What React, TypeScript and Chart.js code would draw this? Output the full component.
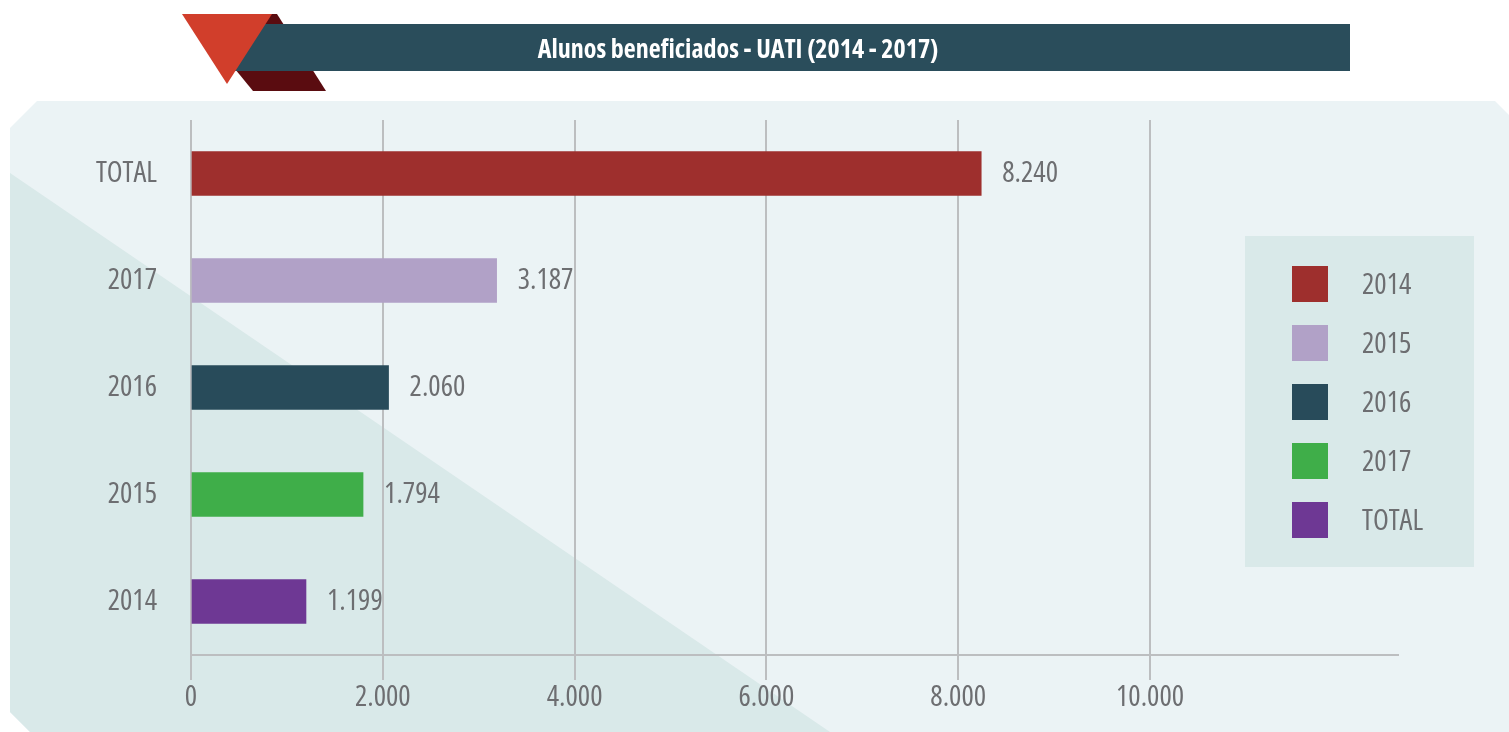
import React, { useEffect, useRef } from 'react';
import { Chart, registerables } from 'chart.js';

Chart.register(...registerables);

const title = 'Alunos beneficiados - UATI (2014 - 2017)';
const categories = ['TOTAL', '2017', '2016', '2015', '2014'];
const values = [8240, 3187, 2060, 1794, 1199];
const barColors = ['#9e2f2d', '#b1a1c7', '#284b5a', '#3fae49', '#6e3894'];
const legendLabels = ['2014', '2015', '2016', '2017', 'TOTAL'];
const legendColors = ['#9e2f2d', '#b1a1c7', '#284b5a', '#3fae49', '#6e3894'];
const xTickValues = [0, 2000, 4000, 6000, 8000, 10000];

const FAMILY = "'Open Sans', 'DejaVu Sans Condensed', sans-serif";
const FS = 29;
const GRAY = '#6d6e71';
const GRID = '#bcbec0';

function fmt(n: number): string {
  return String(Math.round(n)).replace(/\B(?=(\d{3})+(?!\d))/g, '.');
}

const backgroundPlugin = {
  id: 'bgDecor',
  beforeDraw(chart: any) {
    const ctx = chart.ctx as CanvasRenderingContext2D;
    const W = chart.width;
    const H = chart.height;
    ctx.save();
    ctx.fillStyle = '#ffffff';
    ctx.fillRect(0, 0, W, H);
    // panel
    ctx.fillStyle = '#ebf3f5';
    ctx.beginPath();
    ctx.moveTo(10, 128);
    ctx.lineTo(37, 101);
    ctx.lineTo(1495, 101);
    ctx.lineTo(W, 115);
    ctx.lineTo(W, H);
    ctx.lineTo(30, H);
    ctx.lineTo(10, 712);
    ctx.closePath();
    ctx.fill();
    // diagonal shade
    ctx.fillStyle = '#d9e9e9';
    ctx.beginPath();
    ctx.moveTo(10, 173);
    ctx.lineTo(830, H);
    ctx.lineTo(30, H);
    ctx.lineTo(10, 712);
    ctx.closePath();
    ctx.fill();
    // banner: dark red parallelogram
    ctx.fillStyle = '#5a0c10';
    ctx.beginPath();
    ctx.moveTo(190, 14);
    ctx.lineTo(277, 14);
    ctx.lineTo(326, 91);
    ctx.lineTo(253, 91);
    ctx.closePath();
    ctx.fill();
    // teal bar
    ctx.fillStyle = '#2a4d5b';
    ctx.fillRect(235, 24, 1350 - 235, 47);
    // red triangle
    ctx.fillStyle = '#d13e2b';
    ctx.beginPath();
    ctx.moveTo(182, 14);
    ctx.lineTo(272, 14);
    ctx.lineTo(227, 84);
    ctx.closePath();
    ctx.fill();
    // title
    ctx.fillStyle = '#ffffff';
    ctx.font = `bold condensed 26px ${FAMILY}`;
    ctx.textAlign = 'center';
    ctx.textBaseline = 'middle';
    ctx.fillText(title, 738, 51);
    ctx.restore();
  },
};

const valueLabelPlugin = {
  id: 'valueLabels',
  afterDatasetsDraw(chart: any) {
    const ctx = chart.ctx as CanvasRenderingContext2D;
    const meta = chart.getDatasetMeta(0);
    ctx.save();
    ctx.fillStyle = GRAY;
    ctx.font = `condensed ${FS}px ${FAMILY}`;
    ctx.textAlign = 'left';
    ctx.textBaseline = 'middle';
    meta.data.forEach((bar: any, i: number) => {
      ctx.fillText(fmt(values[i]), bar.x + 21, bar.y);
    });
    ctx.restore();
  },
};

const legendPlugin = {
  id: 'boxLegend',
  afterDraw(chart: any) {
    const ctx = chart.ctx as CanvasRenderingContext2D;
    ctx.save();
    ctx.fillStyle = '#d9e9e9';
    ctx.fillRect(1245, 236, 229, 331);
    ctx.font = `condensed ${FS}px ${FAMILY}`;
    ctx.textAlign = 'left';
    ctx.textBaseline = 'middle';
    legendLabels.forEach((lab, i) => {
      const cy = 284 + i * 59;
      ctx.fillStyle = legendColors[i];
      ctx.fillRect(1292, cy - 18, 36, 36);
      ctx.fillStyle = GRAY;
      ctx.fillText(lab, 1362, cy + 2);
    });
    ctx.restore();
  },
};

export default function App() {
  const ref = useRef<HTMLCanvasElement | null>(null);

  useEffect(() => {
    document.body.style.margin = '0';
    const canvas = ref.current;
    if (!canvas) return;
    const tickFont = { family: FAMILY, size: FS, weight: 'condensed' };
    const chart = new Chart(canvas, {
      type: 'bar',
      data: {
        labels: categories,
        datasets: [
          {
            data: values,
            backgroundColor: barColors,
            borderWidth: 0,
            barThickness: 44,
          },
        ],
      },
      options: {
        indexAxis: 'y',
        responsive: false,
        animation: false,
        layout: { padding: { top: 120, right: 111, left: 0, bottom: 0 } },
        plugins: {
          legend: { display: false },
          tooltip: { enabled: false },
          title: { display: false },
        },
        scales: {
          x: {
            min: 0,
            max: 12586,
            afterBuildTicks: (scale: any) => {
              scale.ticks = xTickValues.map((v) => ({ value: v }));
            },
            afterFit: (scale: any) => {
              scale.height = 77;
            },
            grid: {
              color: GRID,
              lineWidth: 2,
              tickLength: 25,
              drawOnChartArea: true,
            },
            border: { display: true, color: GRID, width: 2 },
            ticks: {
              color: GRAY,
              font: tickFont,
              padding: 0,
              callback: (v: any) => fmt(Number(v)),
              maxRotation: 0,
            },
          },
          y: {
            afterFit: (scale: any) => {
              scale.width = 191;
            },
            grid: { display: false, drawTicks: false },
            border: { display: false },
            ticks: {
              color: GRAY,
              font: tickFont,
              padding: 34,
            },
          },
        },
      },
      plugins: [backgroundPlugin, valueLabelPlugin, legendPlugin],
    } as any);
    return () => chart.destroy();
  }, []);

  return (
    <div style={{ width: 1509, height: 732 }}>
      <canvas ref={ref} width={1509} height={732} style={{ display: 'block' }} />
    </div>
  );
}
